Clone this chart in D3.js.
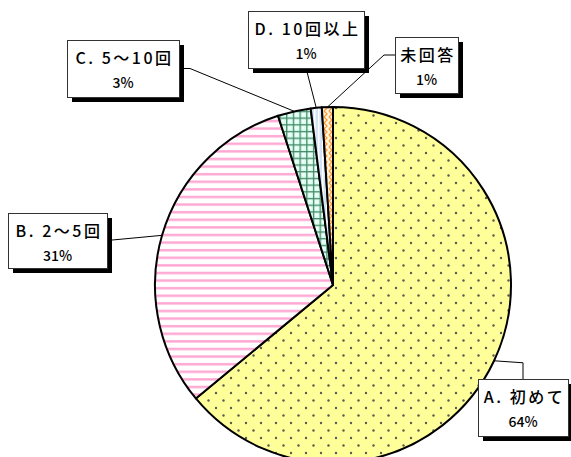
<!DOCTYPE html>
<html>
<head>
<meta charset="utf-8">
<script src="https://cdn.jsdelivr.net/npm/d3@7/dist/d3.min.js"></script>
<style>
  html, body { margin: 0; padding: 0; background: #fff; }
  svg { display: block; }
  text { font-family: "Noto Sans CJK JP", "Noto Sans", sans-serif; fill: #000; }
</style>
</head>
<body>
<svg id="chart" width="571" height="457"></svg>
<script>
// Answer categories, their shares (%) and the printed percentage labels
const categories = ["A. 初めて", "B. 2～5回", "C. 5～10回", "D. 10回以上", "未回答"];
const shares = [64, 31, 3, 1, 1];
const shareLabels = ["64%", "31%", "3%", "1%", "1%"];

const W = 571, H = 457;
const cx = 333, cy = 285, R = 178;

const svg = d3.select("#chart");
svg.append("rect").attr("width", W).attr("height", H).attr("fill", "#fff");

// ---- fill patterns for each slice ----
const defs = svg.append("defs");

// A: yellow with staggered grey dots
const pA = defs.append("pattern").attr("id", "patA")
  .attr("patternUnits", "userSpaceOnUse").attr("width", 15).attr("height", 15);
pA.append("rect").attr("width", 15).attr("height", 15).attr("fill", "#ffff99");
pA.append("circle").attr("cx", 3).attr("cy", 3).attr("r", 1.2).attr("fill", "#5a5a50");
pA.append("circle").attr("cx", 10.5).attr("cy", 10.5).attr("r", 1.2).attr("fill", "#5a5a50");

// B: pink horizontal stripes
const pB = defs.append("pattern").attr("id", "patB")
  .attr("patternUnits", "userSpaceOnUse").attr("width", 8).attr("height", 7.6);
pB.append("rect").attr("width", 8).attr("height", 7.6).attr("fill", "#ffffff");
pB.append("rect").attr("y", 2).attr("width", 8).attr("height", 2.4).attr("fill", "#ffa6d2");

// C: mint cells with green grid lines
const pC = defs.append("pattern").attr("id", "patC")
  .attr("patternUnits", "userSpaceOnUse").attr("width", 6.7).attr("height", 6.7);
pC.append("rect").attr("width", 6.7).attr("height", 6.7).attr("fill", "#d6fff0");
pC.append("rect").attr("x", 2).attr("y", 2).attr("width", 3).attr("height", 3).attr("fill", "#f2fffa");
pC.append("rect").attr("width", 6.7).attr("height", 1.3).attr("fill", "#4a8a68");
pC.append("rect").attr("width", 1.3).attr("height", 6.7).attr("fill", "#4a8a68");

// D: pale blue with white streaks
const pD = defs.append("pattern").attr("id", "patD")
  .attr("patternUnits", "userSpaceOnUse").attr("width", 4).attr("height", 6);
pD.append("rect").attr("width", 4).attr("height", 6).attr("fill", "#d4e2f6");
pD.append("rect").attr("x", 1).attr("width", 1.5).attr("height", 6).attr("fill", "#ffffff");

// No answer: orange zigzag on cream
const pE = defs.append("pattern").attr("id", "patE")
  .attr("patternUnits", "userSpaceOnUse").attr("width", 5).attr("height", 6);
pE.append("rect").attr("width", 5).attr("height", 6).attr("fill", "#fff4dc");
pE.append("path").attr("d", "M1,0 L4,3 L1,6").attr("fill", "none")
  .attr("stroke", "#ff9933").attr("stroke-width", 1.3);

const fills = ["url(#patA)", "url(#patB)", "url(#patC)", "url(#patD)", "url(#patE)"];

// ---- pie ----
const pie = d3.pie().sort(null).value(d => d);
const arcs = pie(shares);
const arc = d3.arc().innerRadius(0).outerRadius(R);

const g = svg.append("g").attr("transform", `translate(${cx},${cy})`);
g.selectAll("path.slice")
  .data(arcs)
  .join("path")
  .attr("class", "slice")
  .attr("d", arc)
  .attr("fill", (d, i) => fills[i])
  .attr("stroke", "#000")
  .attr("stroke-width", 2)
  .attr("stroke-linejoin", "round");

// point on the rim at the middle of a slice
function rimPoint(d) {
  const a = (d.startAngle + d.endAngle) / 2;
  return [cx + R * Math.sin(a), cy - R * Math.cos(a)];
}

// ---- label boxes layout: [x, y, w, h] and leader route ----
const boxes = [
  { box: [478, 379, 90, 57], route: p => [p, [523, p[1] + 2], [523, 379]] },
  { box: [8, 213, 99, 55],   route: p => [p, [107, 240.5]] },
  { box: [67, 40, 112, 57],  route: p => [p, [190, 68.5], [179, 68.5]] },
  { box: [248, 11, 116, 57], route: p => [p, [306, 68]] },
  { box: [395, 37, 63, 56],  route: p => [p, [384, 55], [395, 55]] }
];

const line = d3.line();
svg.append("g").selectAll("path.leader")
  .data(arcs)
  .join("path")
  .attr("class", "leader")
  .attr("d", (d, i) => line(boxes[i].route(rimPoint(d))))
  .attr("fill", "none")
  .attr("stroke", "#000")
  .attr("stroke-width", 1);

const lbl = svg.append("g").selectAll("g.label")
  .data(categories)
  .join("g")
  .attr("class", "label")
  .attr("transform", (d, i) => `translate(${boxes[i].box[0]},${boxes[i].box[1]})`);

lbl.append("rect")
  .attr("x", 5).attr("y", 5)
  .attr("width", (d, i) => boxes[i].box[2])
  .attr("height", (d, i) => boxes[i].box[3])
  .attr("fill", "#000");
lbl.append("rect")
  .attr("x", 0.5).attr("y", 0.5)
  .attr("width", (d, i) => boxes[i].box[2])
  .attr("height", (d, i) => boxes[i].box[3])
  .attr("fill", "#fff")
  .attr("stroke", "#333")
  .attr("stroke-width", 1);
lbl.append("text")
  .attr("x", (d, i) => boxes[i].box[2] / 2 + 1.5)
  .attr("y", 24)
  .attr("text-anchor", "middle")
  .attr("font-size", 16)
  .attr("font-weight", 500)
  .attr("letter-spacing", "2.5px")
  .text(d => d);
lbl.append("text")
  .attr("x", (d, i) => boxes[i].box[2] / 2)
  .attr("y", 48)
  .attr("text-anchor", "middle")
  .attr("font-size", 14)
  .attr("font-weight", 500)
  .text((d, i) => shareLabels[i]);
</script>
</body>
</html>
